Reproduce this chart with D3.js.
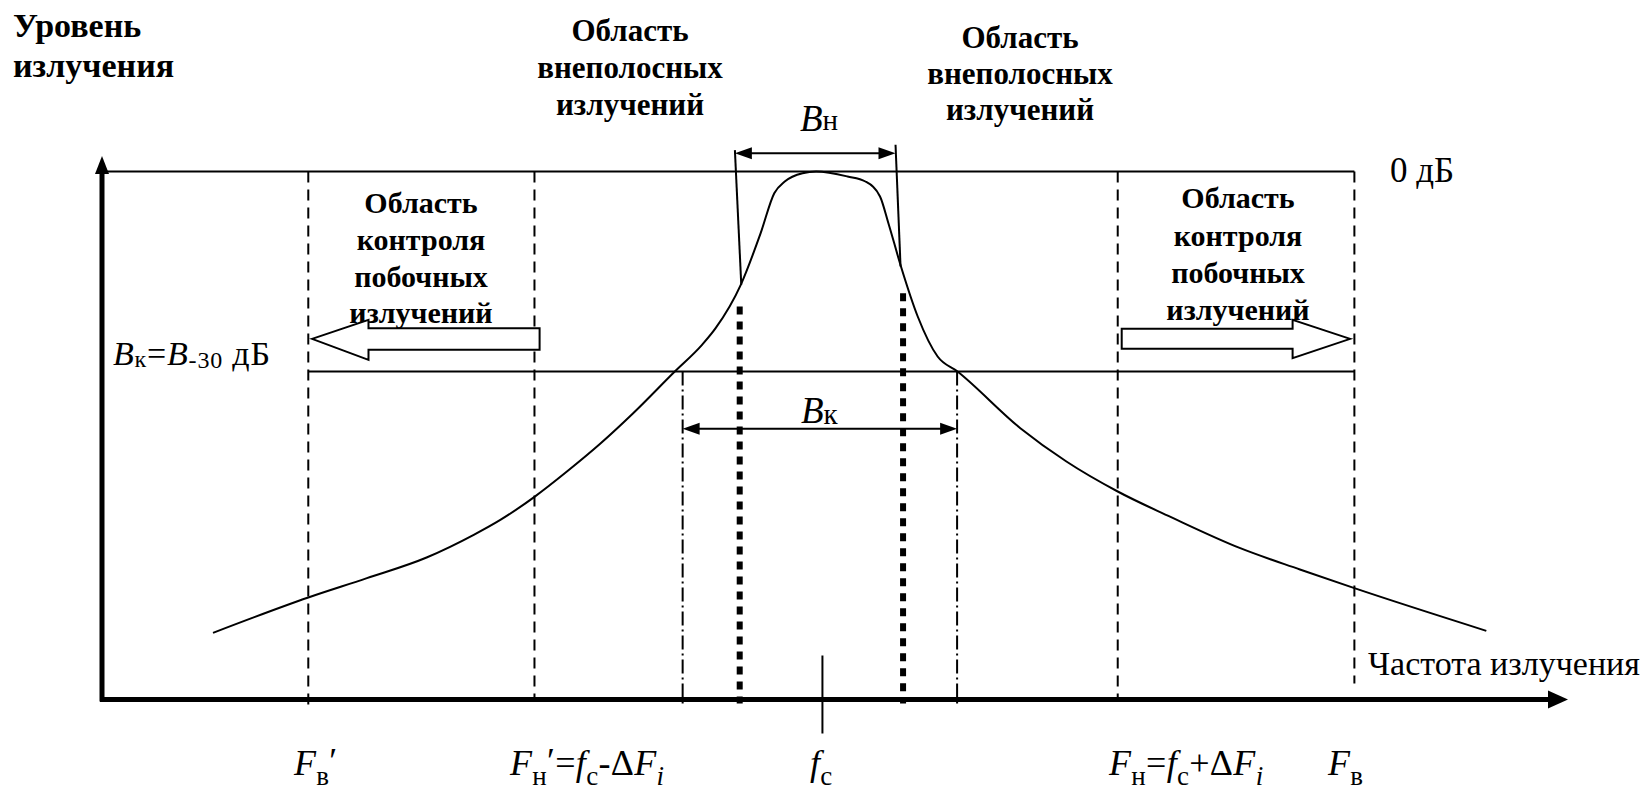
<!DOCTYPE html>
<html>
<head>
<meta charset="utf-8">
<title>Спектр излучения</title>
<style>
	body{
		margin: 0;
		background-color: #ffffff;
	}
	svg text{
		font-family: "Liberation Serif", "Times New Roman", serif;
		fill: #000;
	}
</style>
</head>
<body>
<svg id="chart" width="1645" height="803"></svg>

<script src="https://cdn.jsdelivr.net/npm/d3@7/dist/d3.min.js"></script>
<script>
// emission spectrum, relative frequency units vs level in dB
const curveFreq  = [10.6, 19.7, 25.3, 31.0, 35.5, 38.0, 41.3, 44.4, 47.6, 50.7, 54.7, 57.3, 58.6, 61.0, 62.9, 64.2, 65.2, 66.9, 68.2, 71.2, 72.9, 74.3, 75.1, 76.3, 77.9, 79.8, 81.7, 87.7, 92.1, 97.0, 102.3, 108.7, 114.4, 119.6, 132.2];
const curveLevel = [-69.2, -63.9, -61.0, -57.9, -54.5, -52.3, -48.8, -45.0, -40.8, -36.3, -30.0, -26.0, -23.5, -17.0, -9.25, -3.25, -1.5, -0.25, 0, -0.75, -1.5, -3.75, -7.75, -14.25, -21.75, -27.75, -30.0, -38.5, -43.5, -48.0, -52.0, -56.5, -59.7, -62.5, -68.9];

const fc = 68.8;
const levelTop = 0;        // 0 дБ
const levelControl = -30;  // B-30 дБ
const dashedFreqs  = [19.7, 41.3, 97.0, 119.6];   // F'в, F'н, Fн, Fв
const dashDotFreqs = [55.45, 81.66];              // edges of Bк
const dottedFreqs  = [60.9, 76.5];
const dottedTop    = [-20.25, -18.25];
const bnTop    = [60.44, 75.78];   // Bн slanted lines, top
const bnBottom = [61.05, 76.26];   // and where they meet the curve
const bnBottomLevel = [-17, -14.25];

let svg = d3.select("#chart")

let x = d3.scaleLinear().domain([0, 140]).range([102, 1568])
let y = d3.scaleLinear().domain([-79.2, 0]).range([699.5, 171.5])

const x0 = x(0), yAxisY = y(-79.2)

function arrowHead(px, py, dir, len, half){
	let pts
	if(dir == "r") pts = [[px,py],[px-len,py-half],[px-len,py+half]]
	if(dir == "l") pts = [[px,py],[px+len,py-half],[px+len,py+half]]
	if(dir == "u") pts = [[px,py],[px-half,py+len],[px+half,py+len]]
	svg.append("polygon").attr("points", pts.map(p => p.join(",")).join(" ")).attr("fill", "#000")
}

// ---- horizontal reference lines
svg.append("line").attr("x1", x0).attr("x2", x(dashedFreqs[3]))
	.attr("y1", y(levelTop)).attr("y2", y(levelTop))
	.attr("stroke", "#000").attr("stroke-width", 2)
svg.append("line").attr("x1", x(dashedFreqs[0])).attr("x2", x(dashedFreqs[3]))
	.attr("y1", y(levelControl)).attr("y2", y(levelControl))
	.attr("stroke", "#000").attr("stroke-width", 2)

// ---- dashed boundaries
let dashedEnds = [yAxisY + 10, yAxisY, yAxisY, yAxisY - 16]
svg.selectAll(".dashed").data(dashedFreqs).enter().append("line")
	.attr("x1", d => x(d)).attr("x2", d => x(d))
	.attr("y1", y(levelTop)).attr("y2", (d, i) => dashedEnds[i])
	.attr("stroke", "#000").attr("stroke-width", 2)
	.attr("stroke-dasharray", "11,7")

svg.selectAll(".dashdot").data(dashDotFreqs).enter().append("line")
	.attr("x1", d => x(d)).attr("x2", d => x(d))
	.attr("y1", y(levelControl)).attr("y2", yAxisY + 4)
	.attr("stroke", "#000").attr("stroke-width", 2)
	.attr("stroke-dasharray", "14,4,2,4")

svg.selectAll(".dotted").data(dottedFreqs).enter().append("line")
	.attr("x1", d => x(d)).attr("x2", d => x(d))
	.attr("y1", (d, i) => y(dottedTop[i])).attr("y2", yAxisY + 4)
	.attr("stroke", "#000").attr("stroke-width", 6)
	.attr("stroke-dasharray", "8,7")

// fc tick
svg.append("line").attr("x1", x(fc)).attr("x2", x(fc))
	.attr("y1", y(-72.6)).attr("y2", yAxisY + 34)
	.attr("stroke", "#000").attr("stroke-width", 2)

// ---- spectrum curve
let line = d3.line()
	.x(d => x(d[0]))
	.y(d => y(d[1]))
	.curve(d3.curveMonotoneX)
svg.append("path")
	.datum(d3.zip(curveFreq, curveLevel))
	.attr("d", line)
	.attr("fill", "none").attr("stroke", "#000").attr("stroke-width", 2)

// ---- Bн
for(let i = 0; i < 2; i++){
	svg.append("line").attr("x1", x(bnTop[i])).attr("x2", x(bnBottom[i]))
		.attr("y1", y(3.2 + i * 0.8)).attr("y2", y(bnBottomLevel[i]))
		.attr("stroke", "#000").attr("stroke-width", 2)
}
svg.append("line").attr("x1", x(bnTop[0]) + 14).attr("x2", x(bnTop[1]) - 14)
	.attr("y1", y(2.75)).attr("y2", y(2.75))
	.attr("stroke", "#000").attr("stroke-width", 2)
arrowHead(x(bnTop[0]), y(2.75), "l", 17, 6)
arrowHead(x(bnTop[1]), y(2.75), "r", 17, 6)

// ---- Bк
svg.append("line").attr("x1", x(dashDotFreqs[0]) + 14).attr("x2", x(dashDotFreqs[1]) - 14)
	.attr("y1", y(-38.6)).attr("y2", y(-38.6))
	.attr("stroke", "#000").attr("stroke-width", 2)
arrowHead(x(dashDotFreqs[0]), y(-38.6), "l", 17, 6)
arrowHead(x(dashDotFreqs[1]), y(-38.6), "r", 17, 6)

// ---- axes
svg.append("line").attr("x1", x0).attr("x2", x0).attr("y1", yAxisY + 2).attr("y2", 172)
	.attr("stroke", "#000").attr("stroke-width", 5)
arrowHead(x0, 156, "u", 18, 7)
svg.append("line").attr("x1", x0 - 2).attr("x2", x(140) - 16).attr("y1", yAxisY).attr("y2", yAxisY)
	.attr("stroke", "#000").attr("stroke-width", 5)
arrowHead(x(140), yAxisY, "r", 20, 9)

// ---- text helper: parts = [text, {i: italic, s: size, dy: shift}]
function richText(px, py, parts, spacing){
	let t = svg.append("text").attr("x", px).attr("y", py)
		.attr("letter-spacing", spacing || 0)
	let shift = 0
	parts.forEach(p => {
		let o = p[1] || {}
		let d = (o.dy || 0) - shift
		shift = o.dy || 0
		t.append("tspan").text(p[0])
			.attr("dy", d)
			.attr("font-size", o.s || 36)
			.attr("font-style", o.i ? "italic" : "normal")
	})
	return t
}

function block(px, lines, baselines, anchor, size){
	lines.forEach((l, i) => {
		svg.append("text").attr("x", px).attr("y", baselines[i])
			.attr("text-anchor", anchor).attr("font-weight", "bold").attr("font-size", size)
			.text(l)
	})
}

block(13, ["Уровень", "излучения"], [37, 77], "start", 34)
block(630, ["Область", "внеполосных", "излучений"], [41, 78, 115], "middle", 31)
block(1020, ["Область", "внеполосных", "излучений"], [48, 84, 120], "middle", 31)
block(421, ["Область", "контроля", "побочных", "излучений"], [213, 250, 287, 323], "middle", 30)
block(1238, ["Область", "контроля", "побочных", "излучений"], [208, 246, 283, 320], "middle", 30)

// ---- hollow block arrows (drawn over the text)
function blockArrow(tip, headBase, tail, lvl){
	// lvl: [tip, headTop, headBottom, bodyTop, bodyBottom]
	let pts = [
		[x(tip), y(lvl[0])],
		[x(headBase), y(lvl[1])],
		[x(headBase), y(lvl[3])],
		[x(tail), y(lvl[3])],
		[x(tail), y(lvl[4])],
		[x(headBase), y(lvl[4])],
		[x(headBase), y(lvl[2])]
	]
	svg.append("polygon").attr("points", pts.map(p => p.join(",")).join(" "))
		.attr("fill", "#fff").attr("stroke", "#000").attr("stroke-width", 2)
}
blockArrow(20.06, 25.45, 41.79, [-25.1, -22.25, -28.25, -23.5, -26.75])
blockArrow(119.2, 113.7, 97.38, [-25.1, -22.25, -28.0, -23.6, -26.6])

// ---- labels
richText(800, 131, [["B", {i: true, s: 37}], ["н", {s: 29, dy: -1}]])
richText(801, 423, [["B", {i: true, s: 37}], ["к", {s: 29, dy: 1}]])
richText(113, 365, [["B", {i: true, s: 34}], ["к", {s: 24, dy: 2}], ["=", {s: 34}], ["B", {i: true, s: 34}], ["-30", {s: 24, dy: 3}], [" дБ", {s: 34}]], 0.8)

richText(1390, 182, [["0 дБ", {s: 35}]])
richText(1368, 675, [["Частота излучения", {s: 34}]])

let sub = {s: 27, dy: 10}, subI = {s: 27, dy: 10, i: true}, prime = {s: 36, dy: -2}
richText(294, 775, [["F", {i: true, s: 36}], ["в", sub], ["′", prime]], 0.3)
richText(510, 775, [["F", {i: true, s: 36}], ["н", sub], ["′", prime], ["=", {s: 36}], ["f", {i: true, s: 36}], ["c", sub], ["-Δ", {s: 36}], ["F", {i: true, s: 36}], ["i", subI]], 0.3)
richText(810, 775, [["f", {i: true, s: 36}], ["c", sub]], 0.3)
richText(1109, 775, [["F", {i: true, s: 36}], ["н", sub], ["=", {s: 36}], ["f", {i: true, s: 36}], ["c", sub], ["+Δ", {s: 36}], ["F", {i: true, s: 36}], ["i", subI]], 0.3)
richText(1328, 775, [["F", {i: true, s: 36}], ["в", sub]], 0.3)
</script>
</body>
</html>
